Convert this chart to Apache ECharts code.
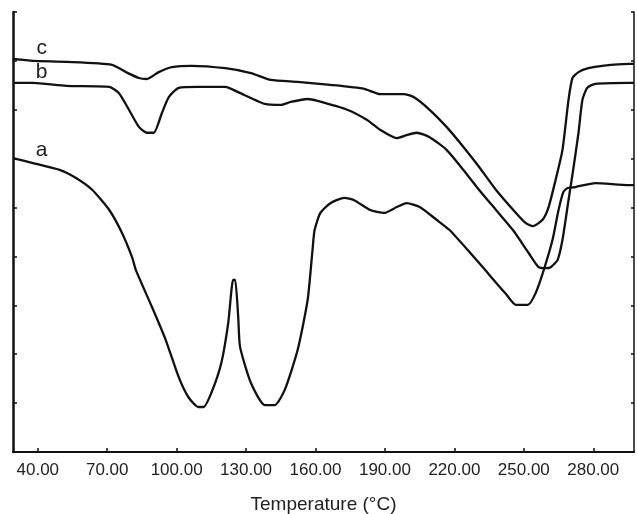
<!DOCTYPE html>
<html>
<head>
<meta charset="utf-8">
<script src="https://cdn.jsdelivr.net/npm/echarts@6/dist/echarts.min.js"></script>
<style>
  html, body { margin: 0; padding: 0; background: #fff; }
  #main { width: 637px; height: 514px; }
</style>
</head>
<body>
<div id="main"></div>
<script>
// DSC curves, temperature (°C) vs heat flow (arbitrary units, axis unlabeled)
var tempTicks = [40, 70, 100, 130, 160, 190, 220, 250, 280];

var curveC = [
  [29.3, 8.04], [37.9, 8.00], [52.4, 7.98], [72.1, 7.92], [78.1, 7.77], [83.7, 7.65],
  [87.1, 7.63], [92.3, 7.77], [97.9, 7.87], [106.4, 7.90], [121.0, 7.85], [132.1, 7.75],
  [140.7, 7.61], [152.3, 7.57], [166.4, 7.51], [181.0, 7.43], [187.9, 7.32], [198.1, 7.32],
  [202.4, 7.26], [209.3, 7.00], [216.6, 6.65], [223.9, 6.24], [230.7, 5.83], [238.0, 5.36],
  [246.6, 4.89], [250.9, 4.68], [253.9, 4.62], [258.1, 4.75], [260.7, 5.01], [263.7, 5.56],
  [266.7, 6.18], [269.3, 7.20], [271.0, 7.65], [273.6, 7.77], [277.9, 7.85], [283.9, 7.90],
  [295.4, 7.94], [297.6, 7.94]
];

var curveB = [
  [29.3, 7.55], [37.9, 7.55], [52.4, 7.49], [70.9, 7.47], [75.1, 7.34], [79.4, 7.00],
  [83.7, 6.65], [87.1, 6.53], [90.1, 6.53], [93.6, 6.93], [96.6, 7.26], [100.9, 7.45],
  [109.4, 7.47], [121.0, 7.47], [126.6, 7.36], [132.1, 7.24], [138.1, 7.12], [145.0, 7.10],
  [149.3, 7.16], [156.6, 7.22], [160.9, 7.18], [173.7, 7.00], [182.3, 6.79], [187.9, 6.59],
  [195.1, 6.42], [199.4, 6.48], [203.7, 6.53], [209.3, 6.44], [216.6, 6.18], [223.9, 5.77],
  [230.7, 5.36], [238.0, 4.95], [245.3, 4.54], [252.1, 4.07], [256.4, 3.78], [259.4, 3.76],
  [261.6, 3.78], [264.6, 3.93], [266.7, 4.34], [269.3, 5.15], [271.0, 5.67], [273.6, 6.52],
  [275.3, 7.20], [277.4, 7.45], [280.9, 7.53], [295.4, 7.55], [297.6, 7.55]
];

var curveA = [
  [29.3, 6.01], [37.9, 5.91], [49.4, 5.77], [56.7, 5.60], [63.6, 5.36], [70.9, 4.95],
  [76.4, 4.48], [80.7, 3.99], [82.4, 3.72], [89.3, 2.97], [95.3, 2.29], [100.9, 1.53],
  [105.1, 1.12], [109.4, 0.92], [111.6, 0.92], [115.0, 1.21], [119.3, 1.82], [122.3, 2.64],
  [124.4, 3.52], [125.3, 3.52], [126.6, 2.76], [127.4, 2.15], [132.1, 1.41], [138.1, 0.96],
  [142.4, 0.96], [146.7, 1.27], [152.3, 2.09], [156.6, 3.11], [158.7, 4.13], [159.6, 4.54],
  [162.1, 4.89], [166.4, 5.09], [172.4, 5.20], [176.7, 5.15], [183.6, 4.95], [189.6, 4.89],
  [195.1, 5.01], [199.4, 5.09], [205.0, 5.01], [212.3, 4.75], [217.9, 4.54], [226.9, 4.07],
  [233.7, 3.70], [238.0, 3.46], [242.3, 3.23], [246.6, 3.01], [251.7, 3.01], [255.1, 3.25],
  [258.6, 3.72], [262.4, 4.34], [265.0, 4.95], [267.1, 5.32], [268.9, 5.40], [272.3, 5.42],
  [280.9, 5.50], [295.4, 5.46], [297.6, 5.46]
];

// curve names and where their letters sit (data coords)
var curveNames = ['a', 'b', 'c'];
var namePos = [[41.7, 6.18], [41.7, 7.77], [41.7, 8.26]];

var chart = echarts.init(document.getElementById('main'));

function curveSeries(data, idx) {
  return {
    type: 'line',
    data: data,
    showSymbol: false,
    smooth: 0.2,
    lineStyle: { color: '#111', width: 2.3 },
    silent: true,
    markPoint: {
      symbol: 'circle',
      symbolSize: 0,
      label: {
        show: true,
        position: 'inside',
        formatter: curveNames[idx],
        fontFamily: 'Liberation Sans',
        fontSize: 21,
        color: '#222'
      },
      data: [{ coord: namePos[idx] }]
    }
  };
}

var option = {
  animation: false,
  backgroundColor: '#fff',
  grid: { left: 13, top: 12, right: 3, bottom: 62, containLabel: false, outerBoundsMode: 'none' },
  xAxis: [{
    type: 'value',
    min: 29.3,
    max: 297.6,
    name: 'Temperature (°C)',
    nameLocation: 'middle',
    nameGap: 43,
    nameTextStyle: { fontFamily: 'Liberation Sans', fontSize: 19, color: '#222' },
    axisLine: { show: true, lineStyle: { color: '#111', width: 2 } },
    axisTick: { show: true, inside: true, length: 4, customValues: tempTicks,
                lineStyle: { color: '#111', width: 1.5 } },
    axisLabel: {
      customValues: tempTicks,
      margin: 10,
      fontFamily: 'Liberation Sans',
      fontSize: 17,
      color: '#222',
      formatter: function (v) { return v.toFixed(2); }
    },
    splitLine: { show: false }
  }, {
    type: 'value',
    position: 'top',
    min: 29.3,
    max: 297.6,
    axisLine: { show: true, lineStyle: { color: '#111', width: 1.5 } },
    axisTick: { show: false },
    axisLabel: { show: false },
    splitLine: { show: false }
  }],
  yAxis: [{
    type: 'value',
    min: 0,
    max: 9,
    interval: 1,
    axisLine: { show: true, lineStyle: { color: '#111', width: 2.5 } },
    axisTick: { show: true, inside: true, length: 4, lineStyle: { color: '#111', width: 1.5 } },
    axisLabel: { show: false },
    splitLine: { show: false }
  }, {
    type: 'value',
    position: 'right',
    min: 0,
    max: 9,
    interval: 1,
    axisLine: { show: true, lineStyle: { color: '#111', width: 1.5 } },
    axisTick: { show: true, inside: true, length: 3, lineStyle: { color: '#111', width: 1.5 } },
    axisLabel: { show: false },
    splitLine: { show: false }
  }],
  series: [
    curveSeries(curveA, 0),
    curveSeries(curveB, 1),
    curveSeries(curveC, 2)
  ]
};

chart.setOption(option);
</script>
</body>
</html>
